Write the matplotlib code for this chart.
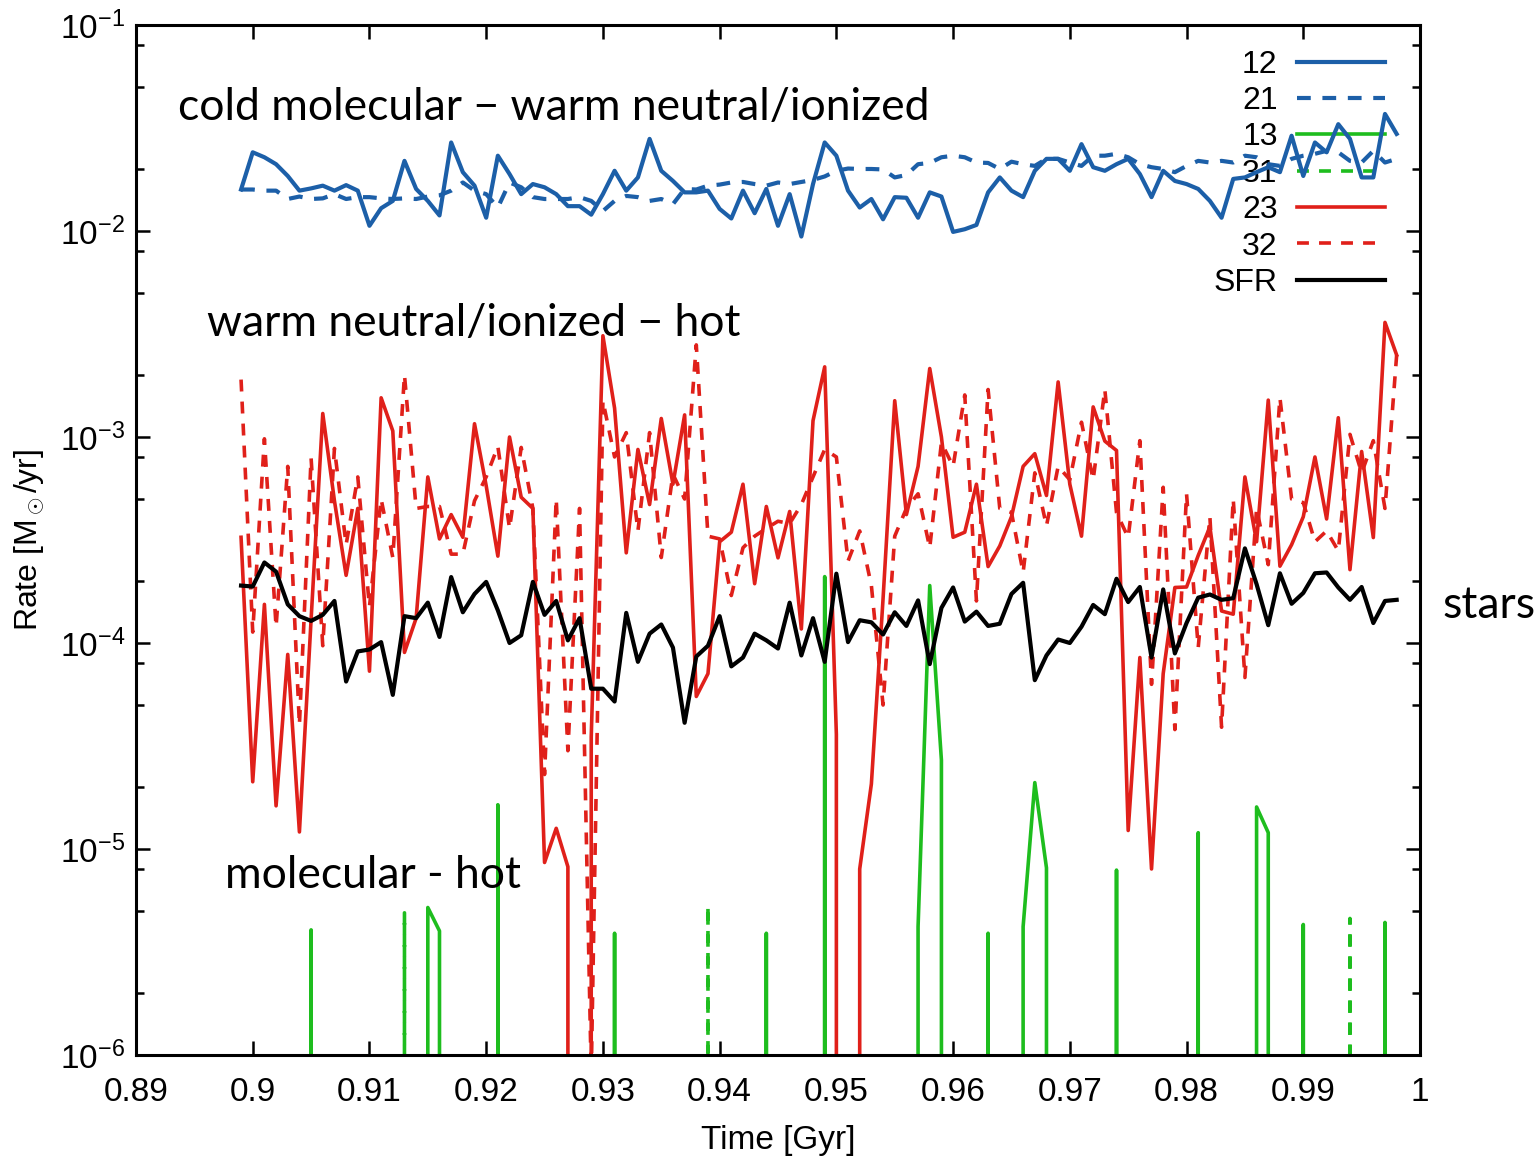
import numpy as np
import matplotlib
matplotlib.use('Agg')
import matplotlib.pyplot as plt
from matplotlib.ticker import FixedLocator, LogLocator, NullFormatter

# output times (Gyr), one snapshot per Myr
time = np.round(0.899 + 0.001 * np.arange(100), 3)

# 12: cold molecular -> warm neutral/ionized
rate_12 = [
    1.59e-2, 2.41e-2, 2.28e-2, 2.11e-2, 1.85e-2, 1.57e-2, 1.61e-2, 1.66e-2, 1.57e-2, 1.67e-2,
    1.57e-2, 1.06e-2, 1.29e-2, 1.40e-2, 2.19e-2, 1.60e-2, 1.40e-2, 1.19e-2, 2.69e-2, 1.93e-2,
    1.66e-2, 1.16e-2, 2.32e-2, 1.89e-2, 1.51e-2, 1.69e-2, 1.63e-2, 1.51e-2, 1.32e-2, 1.32e-2,
    1.20e-2, 1.51e-2, 1.96e-2, 1.57e-2, 1.82e-2, 2.80e-2, 1.96e-2, 1.75e-2, 1.54e-2, 1.54e-2,
    1.57e-2, 1.28e-2, 1.15e-2, 1.57e-2, 1.22e-2, 1.60e-2, 1.06e-2, 1.51e-2, 9.4e-3, 1.69e-2,
    2.69e-2, 2.32e-2, 1.57e-2, 1.30e-2, 1.43e-2, 1.14e-2, 1.46e-2, 1.45e-2, 1.16e-2, 1.54e-2,
    1.47e-2, 9.9e-3, 1.02e-2, 1.07e-2, 1.54e-2, 1.82e-2, 1.57e-2, 1.46e-2, 1.96e-2, 2.24e-2,
    2.24e-2, 1.96e-2, 2.64e-2, 2.04e-2, 1.96e-2, 2.11e-2, 2.24e-2, 1.89e-2, 1.46e-2, 1.96e-2,
    1.75e-2, 1.69e-2, 1.60e-2, 1.40e-2, 1.16e-2, 1.79e-2, 1.82e-2, 1.93e-2, 2.04e-2, 1.93e-2,
    2.90e-2, 1.85e-2, 2.69e-2, 2.41e-2, 3.30e-2, 2.80e-2, 1.82e-2, 1.82e-2, 3.70e-2, 2.96e-2,
]

# 21: warm neutral/ionized -> cold molecular
rate_21 = [
    1.59e-2, 1.59e-2, 1.57e-2, 1.57e-2, 1.43e-2, 1.47e-2, 1.43e-2, 1.44e-2, 1.51e-2, 1.43e-2,
    1.46e-2, 1.46e-2, 1.44e-2, 1.43e-2, 1.44e-2, 1.43e-2, 1.47e-2, 1.49e-2, 1.57e-2, 1.72e-2,
    1.57e-2, 1.51e-2, 1.30e-2, 1.72e-2, 1.63e-2, 1.46e-2, 1.43e-2, 1.43e-2, 1.43e-2, 1.46e-2,
    1.40e-2, 1.25e-2, 1.40e-2, 1.48e-2, 1.46e-2, 1.40e-2, 1.43e-2, 1.35e-2, 1.60e-2, 1.59e-2,
    1.66e-2, 1.68e-2, 1.72e-2, 1.73e-2, 1.69e-2, 1.66e-2, 1.72e-2, 1.69e-2, 1.73e-2, 1.77e-2,
    1.84e-2, 1.96e-2, 2.01e-2, 2.00e-2, 2.00e-2, 1.99e-2, 1.82e-2, 1.87e-2, 2.11e-2, 2.14e-2,
    2.28e-2, 2.32e-2, 2.28e-2, 2.15e-2, 2.14e-2, 2.00e-2, 2.17e-2, 2.11e-2, 2.07e-2, 2.24e-2,
    2.24e-2, 2.15e-2, 2.07e-2, 2.32e-2, 2.32e-2, 2.37e-2, 2.28e-2, 2.11e-2, 2.04e-2, 2.00e-2,
    1.93e-2, 2.07e-2, 2.19e-2, 2.15e-2, 2.19e-2, 2.15e-2, 2.32e-2, 2.28e-2, 2.11e-2, 2.07e-2,
    2.24e-2, 2.32e-2, 2.37e-2, 2.45e-2, 2.41e-2, 2.19e-2, 2.15e-2, 2.45e-2, 2.15e-2, 2.24e-2,
]

# 23: warm neutral/ionized -> hot (0 = nothing transferred)
rate_23 = [
    3.26e-4, 2.12e-5, 1.54e-4, 1.62e-5, 8.8e-5, 1.21e-5, 1.30e-4, 1.30e-3, 4.9e-4, 2.13e-4,
    4.5e-4, 7.3e-5, 1.55e-3, 1.07e-3, 9.0e-5, 1.32e-4, 6.4e-4, 3.2e-4, 4.2e-4, 3.26e-4,
    1.16e-3, 5.8e-4, 2.64e-4, 1.00e-3, 5.1e-4, 4.5e-4, 8.6e-6, 1.26e-5, 8.2e-6, 0.0,
    3.5e-5, 3.1e-3, 1.38e-3, 2.74e-4, 8.7e-4, 4.7e-4, 1.23e-3, 5.9e-4, 1.28e-3, 5.5e-5,
    7.1e-5, 3.1e-4, 3.45e-4, 5.9e-4, 1.94e-4, 4.6e-4, 2.59e-4, 4.35e-4, 1.17e-4, 1.20e-3,
    2.19e-3, 3.6e-5, 0.0, 8.0e-6, 2.07e-5, 1.64e-4, 1.50e-3, 4.2e-4, 7.2e-4, 2.15e-3,
    1.00e-3, 3.26e-4, 3.45e-4, 5.9e-4, 2.35e-4, 2.96e-4, 4.1e-4, 7.2e-4, 8.3e-4, 5.2e-4,
    1.85e-3, 5.9e-4, 3.3e-4, 1.40e-3, 9.55e-4, 8.6e-4, 1.23e-5, 8.5e-5, 8.0e-6, 7.1e-5,
    1.86e-4, 1.87e-4, 2.66e-4, 3.66e-4, 1.43e-4, 1.38e-4, 6.4e-4, 3.1e-4, 1.51e-3, 2.36e-4,
    3.0e-4, 4.1e-4, 8.0e-4, 4.0e-4, 1.24e-3, 2.27e-4, 8.5e-4, 3.25e-4, 3.6e-3, 2.5e-3,
]

# 32: hot -> warm neutral/ionized
rate_32 = [
    1.9e-3, 1.13e-4, 9.8e-4, 1.2e-4, 7.2e-4, 4.0e-5, 7.9e-4, 9.7e-5, 8.8e-4, 3.0e-4,
    6.4e-4, 1.5e-4, 5.0e-4, 2.6e-4, 2.0e-3, 4.5e-4, 4.6e-4, 4.6e-4, 2.7e-4, 2.7e-4,
    4.9e-4, 6.4e-4, 9.0e-4, 3.6e-4, 8.9e-4, 4.5e-4, 2.3e-5, 5.0e-4, 3.0e-5, 4.5e-4,
    8.0e-7, 1.5e-3, 8.0e-4, 1.05e-3, 3.5e-4, 1.05e-3, 2.6e-4, 6.6e-4, 5.0e-4, 2.8e-3,
    3.3e-4, 3.2e-4, 1.7e-4, 2.9e-4, 3.3e-4, 3.6e-4, 3.9e-4, 3.8e-4, 4.7e-4, 6.4e-4,
    8.7e-4, 8.0e-4, 2.5e-4, 3.5e-4, 1.9e-4, 5.0e-5, 3.3e-4, 4.5e-4, 5.3e-4, 2.9e-4,
    9.4e-4, 7.2e-4, 1.6e-3, 1.6e-4, 1.7e-3, 4.5e-4, 4.3e-4, 2.2e-4, 6.7e-4, 3.7e-4,
    7.2e-4, 6.2e-4, 1.18e-3, 6.2e-4, 1.7e-3, 4.3e-4, 3.25e-4, 9.6e-4, 6.3e-5, 5.7e-4,
    3.8e-5, 5.3e-4, 9.5e-5, 4.1e-4, 3.9e-5, 5.0e-4, 6.8e-5, 4.5e-4, 2.4e-4, 1.55e-3,
    5.0e-4, 4.8e-4, 3.1e-4, 3.5e-4, 2.8e-4, 1.03e-3, 6.7e-4, 9.6e-4, 4.5e-4, 2.5e-3,
]

# star formation rate
sfr = [
    1.90e-4, 1.88e-4, 2.46e-4, 2.22e-4, 1.54e-4, 1.35e-4, 1.28e-4, 1.37e-4, 1.60e-4, 6.5e-5,
    9.1e-5, 9.3e-5, 1.01e-4, 5.6e-5, 1.35e-4, 1.32e-4, 1.57e-4, 1.07e-4, 2.09e-4, 1.41e-4,
    1.73e-4, 1.98e-4, 1.44e-4, 1.00e-4, 1.09e-4, 1.98e-4, 1.37e-4, 1.60e-4, 1.03e-4, 1.32e-4,
    6.0e-5, 6.0e-5, 5.2e-5, 1.40e-4, 8.1e-5, 1.11e-4, 1.23e-4, 9.5e-5, 4.1e-5, 8.6e-5,
    9.7e-5, 1.35e-4, 7.7e-5, 8.5e-5, 1.11e-4, 1.03e-4, 9.4e-5, 1.57e-4, 8.7e-5, 1.32e-4,
    8.1e-5, 2.17e-4, 1.01e-4, 1.29e-4, 1.26e-4, 1.10e-4, 1.41e-4, 1.21e-4, 1.61e-4, 7.9e-5,
    1.48e-4, 1.86e-4, 1.27e-4, 1.42e-4, 1.21e-4, 1.24e-4, 1.73e-4, 1.96e-4, 6.6e-5, 8.7e-5,
    1.04e-4, 1.00e-4, 1.20e-4, 1.53e-4, 1.38e-4, 2.05e-4, 1.58e-4, 1.87e-4, 8.5e-5, 1.82e-4,
    8.9e-5, 1.25e-4, 1.66e-4, 1.72e-4, 1.62e-4, 1.65e-4, 2.88e-4, 1.93e-4, 1.22e-4, 2.18e-4,
    1.55e-4, 1.75e-4, 2.18e-4, 2.20e-4, 1.86e-4, 1.62e-4, 1.87e-4, 1.25e-4, 1.60e-4, 1.62e-4,
]

# 13 and 31 (molecular <-> hot) are zero except for a few snapshots
spike_13_t = [0.905, 0.915, 0.916, 0.921, 0.931, 0.944, 0.949, 0.957, 0.958, 0.959,
              0.963, 0.966, 0.967, 0.968, 0.974, 0.981, 0.986, 0.987, 0.990, 0.997]
spike_13_v = [4.05e-6, 5.2e-6, 4.0e-6, 1.64e-5, 3.9e-6, 3.9e-6, 2.1e-4, 4.2e-6, 1.9e-4, 2.7e-5,
              3.9e-6, 4.2e-6, 2.1e-5, 8.1e-6, 7.9e-6, 1.2e-5, 1.6e-5, 1.2e-5, 4.3e-6, 4.4e-6]
spike_31_t = [0.913, 0.939, 0.994]
spike_31_v = [4.9e-6, 5.3e-6, 4.6e-6]


def fill_spikes(times, values):
    out = np.zeros(len(time))
    for t, v in zip(times, values):
        out[np.argmin(np.abs(time - t))] = v
    return out


rate_13 = fill_spikes(spike_13_t, spike_13_v)
rate_31 = fill_spikes(spike_31_t, spike_31_v)

blue = '#1c5fa8'
green = '#1ebd1e'
red = '#e0201a'

plt.rcParams['font.family'] = ['Liberation Sans', 'DejaVu Sans']
plt.rcParams['mathtext.fontset'] = 'custom'
plt.rcParams['mathtext.rm'] = 'Liberation Sans'
plt.rcParams['mathtext.it'] = 'Liberation Sans:italic'

W, H = 1537, 1166
fig = plt.figure(figsize=(W / 100, H / 100), dpi=100)
ax = fig.add_axes([136 / W, 1 - 1055 / H, (1420 - 136) / W, (1055 - 25) / H])
ax.set_yscale('log')

dash = (0, (3.3, 2.8))
ax.plot(time, rate_12, color=blue, lw=3.0, label='12')
ax.plot(time, rate_21, color=blue, lw=3.0, ls=dash, label='21')
ax.plot(time, rate_13, color=green, lw=2.6, label='13')
ax.plot(time, rate_31, color=green, lw=2.6, ls=dash, label='31')
ax.plot(time, rate_23, color=red, lw=2.6, label='23')
ax.plot(time, rate_32, color=red, lw=2.6, ls=dash, label='32')
ax.plot(time, sfr, color='black', lw=3.0, label='SFR')

ax.set_xlim(0.89, 1.0)
ax.set_ylim(1e-6, 1e-1)

xt = np.round(np.arange(0.89, 1.0001, 0.01), 2)
ax.xaxis.set_major_locator(FixedLocator(xt))
ax.set_xticklabels(['%g' % v for v in xt])
ax.yaxis.set_minor_locator(LogLocator(base=10, subs=[2, 5, 8], numticks=20))
ax.yaxis.set_minor_formatter(NullFormatter())
ax.set_yticks([1e-6, 1e-5, 1e-4, 1e-3, 1e-2, 1e-1])
ax.set_yticklabels(['$10^{-%d}$' % k for k in [6, 5, 4, 3, 2, 1]])

ax.tick_params(which='both', direction='in', top=True, right=True, width=1.8, labelsize=24)
ax.tick_params(which='major', length=10)
ax.tick_params(which='minor', length=5.5)
ax.tick_params(axis='x', pad=16)
ax.tick_params(axis='y', pad=8)
for s in ax.spines.values():
    s.set_linewidth(2.2)

ax.set_xlabel('Time [Gyr]', fontsize=24, labelpad=12)
ax.set_ylabel(r'Rate [M$_\odot$/yr]', fontsize=23, labelpad=10)

leg = ax.legend(loc='upper right', bbox_to_anchor=((1385 - 136) / 1284, 0.976), frameon=False,
                markerfirst=False, fontsize=23, handlelength=2.76, handletextpad=0.6,
                labelspacing=0.2, borderpad=0.0, borderaxespad=0.0)
leg.set_zorder(1)

note = dict(fontsize=32, family=['Lato', 'DejaVu Sans'], va='center', ha='left')
fig.text(178 / W, 1 - 108 / H, 'cold molecular \u2212 warm neutral/ionized', **note)
fig.text(207 / W, 1 - 323 / H, 'warm neutral/ionized \u2212 hot', **note)
fig.text(225 / W, 1 - 876 / H, 'molecular - hot', **note)
fig.text(1442 / W, 1 - 605 / H, 'stars', **note)

fig.savefig('out.png', dpi=100)
